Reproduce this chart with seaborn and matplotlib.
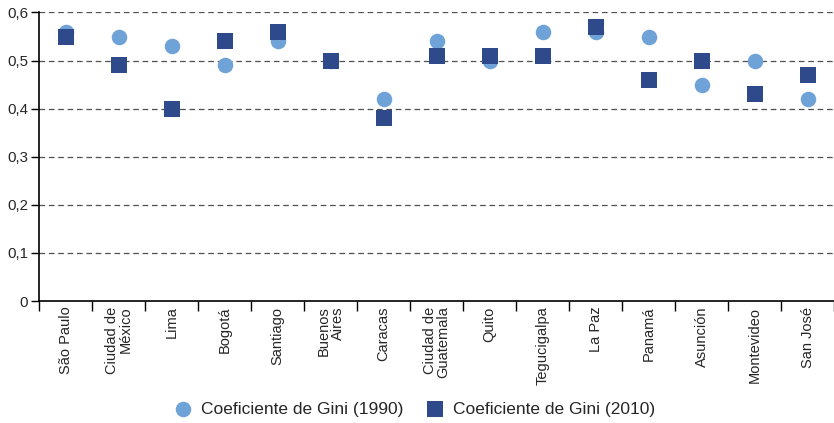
import matplotlib
matplotlib.use("Agg")
import matplotlib.pyplot as plt
import seaborn as sns
import pandas as pd
import numpy as np

cities = ["São Paulo", "Ciudad de\nMéxico", "Lima", "Bogotá", "Santiago", "Buenos\nAires",
          "Caracas", "Ciudad de\nGuatemala", "Quito", "Tegucigalpa", "La Paz", "Panamá",
          "Asunción", "Montevideo", "San José"]
gini_1990 = [0.56, 0.55, 0.53, 0.49, 0.54, 0.50, 0.42, 0.54, 0.50, 0.56, 0.56, 0.55, 0.45, 0.50, 0.42]
gini_2010 = [0.55, 0.49, 0.40, 0.54, 0.56, 0.50, 0.38, 0.51, 0.51, 0.51, 0.57, 0.46, 0.50, 0.43, 0.47]
yticks = [0, 0.1, 0.2, 0.3, 0.4, 0.5, 0.6]
ytick_labels = ["0", "0,1", "0,2", "0,3", "0,4", "0,5", "0,6"]

lab90 = "Coeficiente de Gini (1990)"
lab10 = "Coeficiente de Gini (2010)"

df = pd.DataFrame({
    "pos": list(range(len(cities))) * 2,
    "gini": gini_1990 + gini_2010,
    "serie": [lab90] * len(cities) + [lab10] * len(cities),
})

sns.set_style("white")
plt.rcParams["font.family"] = ["Liberation Sans", "DejaVu Sans"]

fig = plt.figure(figsize=(8.34, 4.23), dpi=100)
ax = fig.add_axes([39 / 834, 1 - 301 / 423, 795 / 834, 288.5 / 423])

for y in yticks[1:]:
    ax.axhline(y, color="#505050", lw=0.9, ls=(0, (4.5, 3)), zorder=0)

sns.scatterplot(data=df[df.serie == lab90], x="pos", y="gini", color="#6fa3d8",
                marker="o", s=125, linewidth=0, ax=ax, label=lab90, zorder=3)
sns.scatterplot(data=df[df.serie == lab10], x="pos", y="gini", color="#2e4a8b",
                marker="s", s=125, linewidth=0, ax=ax, label=lab10, zorder=4)

ax.set_xlim(-0.5, len(cities) - 0.5)
ax.set_ylim(0, 0.6)
ax.set_yticks(yticks)
ax.set_yticklabels(ytick_labels, fontsize=10.8)
ax.set_xticks(range(len(cities)))
ax.set_xticklabels(cities, rotation=90, fontsize=10.5, ha="center", va="top",
                   multialignment="right", linespacing=1.0)
ax.set_xticks(np.arange(-0.5, len(cities), 1), minor=True)
ax.tick_params(axis="x", which="major", bottom=True, length=0, pad=4)
ax.tick_params(axis="x", which="minor", bottom=True, length=7, width=1, color="black",
               direction="out")
ax.tick_params(axis="y", left=True, length=6, width=1, color="black", direction="out", pad=2)
ax.set_xlabel("")
ax.set_ylabel("")

for side in ["top", "right"]:
    ax.spines[side].set_visible(False)
for side in ["left", "bottom"]:
    ax.spines[side].set_color("black")
    ax.spines[side].set_linewidth(1.2)

ax.get_legend().remove()
handles, labels = ax.get_legend_handles_labels()
fig.legend(handles, labels, loc="center", bbox_to_anchor=(0.492, 1 - 409 / 423), ncol=2,
           frameon=False, fontsize=12.5, handletextpad=0.0, columnspacing=0.85,
           markerscale=1.0, borderpad=0)

fig.savefig("out.png", dpi=100)
